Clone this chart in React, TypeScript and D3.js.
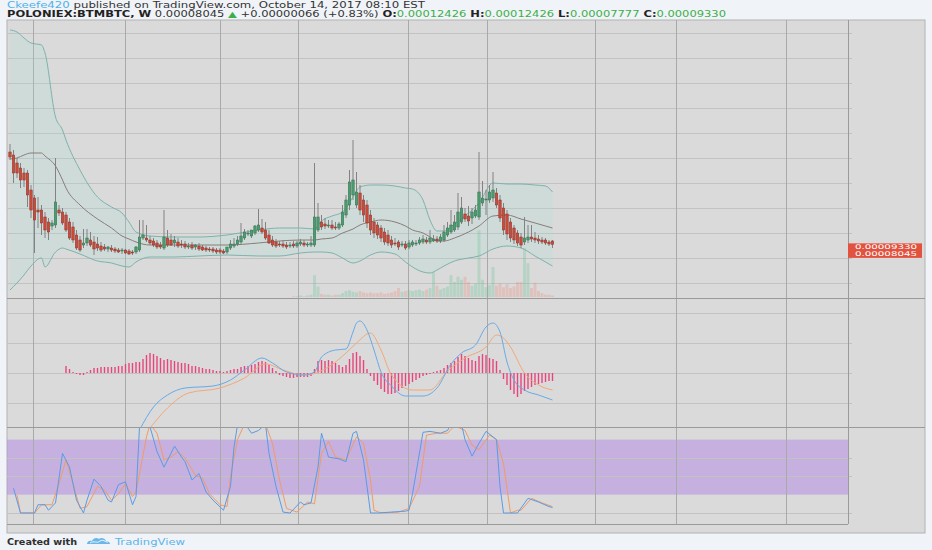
import React, { useEffect, useRef } from 'react';
import * as d3 from 'd3';

// POLONIEX:BTMBTC weekly candles, prices in satoshi (1e-8 BTC)
const opens = [
  11740, 11620, 11300, 11100, 10900, 10900, 10220, 9900, 9420, 9420,
  9140, 8940, 8780, 8820, 9420, 9340, 9220, 8940, 8740, 8420,
  8220, 8020, 8100, 8220, 8140, 8060, 7980, 7940, 7860, 7900,
  7860, 7820, 7780, 7820, 7780, 7740, 7740, 7820, 8300, 8300,
  8220, 8180, 8100, 8020, 7900, 8300, 8220, 8100, 8140, 8060,
  8060, 7940, 8020, 7940, 7980, 7940, 7900, 7860, 7860, 7820,
  7820, 7780, 7740, 7900, 7980, 8060, 8140, 8300, 8460, 8380,
  8500, 8620, 8700, 8620, 8420, 8220, 8140, 8060, 8060, 8020,
  7980, 8060, 7980, 8060, 8100, 8020, 8020, 8020, 8620, 8940,
  8860, 8780, 8820, 8740, 8700, 8820, 9220, 9620, 10020, 9620,
  10100, 9820, 9620, 9220, 8940, 8820, 8700, 8540, 8420, 8220,
  8100, 8140, 8020, 8060, 7940, 8020, 8060, 8100, 8140, 8220,
  8140, 8180, 8260, 8180, 8220, 8420, 8540, 8620, 8740, 8940,
  9260, 9180, 9100, 9180, 9140, 9700, 9820, 9820, 9900, 10100,
  9820, 9500, 9260, 8940, 8700, 8500, 8340, 8140, 8220, 8340,
  8300, 8260, 8220, 8220, 8140, 8180,
];
const highs = [
  12060, 11820, 11500, 11300, 11100, 11020, 10420, 10020, 9940, 9620,
  9340, 9100, 9020, 11500, 9620, 9500, 9340, 9100, 8940, 8620,
  8380, 8660, 8660, 8540, 8380, 8340, 8140, 8060, 7980, 8020,
  7940, 7900, 7900, 7860, 7860, 7820, 7980, 9020, 9020, 8820,
  8380, 8300, 8220, 8140, 9420, 8620, 8460, 8380, 8300, 8220,
  8180, 8100, 8140, 8060, 8100, 8020, 7980, 7940, 7940, 7900,
  7900, 7860, 7940, 8220, 8300, 8380, 8900, 8660, 8620, 8620,
  8820, 9460, 9060, 8940, 8620, 8380, 8260, 8180, 8220, 8140,
  8140, 8180, 8180, 8260, 8220, 8140, 8380, 11300, 9700, 9220,
  9100, 9020, 9020, 8940, 8940, 9620, 10020, 11020, 12220, 10940,
  10420, 10020, 9820, 9420, 9100, 8940, 8820, 8700, 8620, 8380,
  8300, 8220, 8180, 8180, 8220, 8220, 8220, 8340, 8420, 8340,
  8620, 8420, 8380, 8460, 8820, 8940, 9420, 9220, 10100, 9940,
  9500, 9580, 9500, 9620, 11740, 10580, 10220, 10420, 10940, 10300,
  10020, 9700, 9420, 9100, 8820, 8620, 8500, 9140, 8820, 8820,
  8540, 8420, 8340, 8300, 8220, 8220,
];
const lows = [
  11420, 10500, 10700, 10300, 10340, 9540, 9100, 7700, 8700, 8420,
  8300, 8220, 8620, 8700, 9180, 8820, 8540, 8220, 8100, 7820,
  7740, 7900, 7980, 7940, 7620, 7780, 7740, 7780, 7740, 7740,
  7700, 7700, 7660, 7660, 7620, 7620, 7660, 7740, 8220, 8140,
  8020, 7940, 7860, 7860, 7820, 7940, 7980, 7940, 7900, 7900,
  7860, 7860, 7820, 7820, 7780, 7780, 7740, 7740, 7700, 7660,
  7660, 7660, 7660, 7820, 7900, 7980, 8060, 8220, 8380, 8300,
  8420, 8540, 8460, 8220, 8060, 7940, 7900, 7940, 7900, 7860,
  7900, 7900, 7900, 7980, 7940, 7940, 7940, 7940, 8540, 8620,
  8660, 8700, 8620, 8620, 8620, 8740, 9100, 9420, 9820, 9500,
  9220, 8940, 8700, 8420, 8300, 8260, 8140, 8020, 7980, 7900,
  7980, 7820, 7940, 7820, 7860, 7940, 7980, 8020, 8060, 8060,
  8060, 8140, 8100, 8100, 8140, 8340, 8460, 8540, 8620, 8860,
  8940, 8780, 8860, 9100, 9020, 9580, 9220, 9700, 9740, 9500,
  8940, 8420, 8220, 8140, 8060, 7980, 7900, 8020, 8100, 8140,
  8100, 8060, 8060, 8020, 7980, 7900,
];
const closes = [
  11540, 10900, 10900, 10620, 10620, 10020, 9420, 9020, 9340, 8900,
  8620, 8540, 8900, 9740, 9300, 8900, 8620, 8300, 8220, 7900,
  7820, 8100, 8300, 8020, 7860, 7900, 7820, 7860, 7940, 7820,
  7780, 7740, 7820, 7700, 7660, 7700, 7940, 8340, 8420, 8220,
  8100, 8020, 7940, 7940, 8340, 8020, 8020, 8220, 7980, 8020,
  7940, 7980, 7900, 8020, 7860, 7820, 7820, 7820, 7780, 7740,
  7740, 7700, 7940, 8060, 8060, 8220, 8380, 8540, 8500, 8620,
  8780, 8820, 8540, 8300, 8100, 8020, 7980, 8020, 7980, 7940,
  8020, 7980, 8100, 8140, 8020, 8060, 8100, 9140, 9140, 8740,
  8780, 8820, 8700, 8700, 8860, 9340, 9820, 10540, 10620, 10140,
  9420, 9220, 8900, 8620, 8500, 8420, 8300, 8140, 8100, 8020,
  8060, 7940, 8060, 7900, 8100, 8140, 8100, 8220, 8260, 8140,
  8300, 8260, 8180, 8340, 8540, 8700, 8820, 8940, 9340, 9500,
  9060, 8980, 9340, 9420, 10140, 9900, 9860, 10140, 10220, 9620,
  9100, 8620, 8460, 8300, 8220, 8100, 8020, 8300, 8340, 8260,
  8220, 8180, 8140, 8100, 8060, 8045,
];
const volumes = [
  0, 0, 0, 0, 0, 0, 0, 0, 0, 0,
  0, 0, 0, 0, 0, 0, 0, 0, 0, 0,
  0, 0, 0, 0, 0, 0, 0, 0, 0, 0,
  0, 0, 0, 0, 0, 0, 0, 0, 0, 0,
  0, 0, 0, 0, 0, 0, 0, 0, 0, 0,
  0, 0, 0, 0, 0, 0, 0, 0, 0, 0,
  0, 0, 0, 0, 0, 0, 0, 0, 0, 0,
  0, 0, 0, 0, 0, 0, 0, 0, 0, 0,
  0, 1, 1, 2, 1, 2, 3, 29, 14, 4,
  3, 3, 2, 3, 3, 5, 8, 9, 7, 6,
  8, 6, 5, 6, 5, 5, 6, 4, 5, 6,
  8, 12, 7, 8, 9, 8, 9, 10, 8, 10,
  12, 33, 15, 10, 12, 14, 29, 20, 27, 23,
  27, 20, 15, 18, 89, 23, 13, 16, 40, 15,
  18, 13, 17, 12, 14, 20, 20, 65, 45, 12,
  19, 8, 5, 3, 3, 2,
];

// Bollinger bands (20, 2), read at these candle indices
const bbIndex = [0, 2, 4, 6, 9, 10, 13, 15, 16, 20, 25, 29, 32, 34, 36, 40, 47, 54, 62, 71, 77, 83, 87, 89, 92, 95, 98, 100, 103, 106, 110, 113, 115, 118, 120, 122, 124, 127, 131, 134, 138, 142, 146, 150, 153, 155];
const bbUpper = [16620, 16540, 16300, 16100, 16020, 15700, 13140, 12620, 12220, 11020, 9940, 9540, 9300, 8940, 8540, 8380, 8340, 8340, 8420, 8620, 8700, 8700, 8660, 8980, 9180, 9340, 9940, 10340, 10420, 10420, 10380, 10300, 10260, 9820, 9020, 8580, 8580, 8860, 9300, 9700, 10500, 10460, 10460, 10420, 10380, 10140];
const bbBasis = [11460, 11500, 11620, 11700, 11700, 11580, 11180, 10620, 10300, 9620, 9060, 8700, 8380, 8260, 8140, 8020, 8020, 8020, 8020, 8100, 8180, 8220, 8220, 8260, 8300, 8500, 8660, 8820, 8940, 9020, 8940, 8780, 8620, 8500, 8340, 8180, 8180, 8300, 8540, 8780, 9180, 9220, 9060, 8900, 8780, 8700];
const bbLower = [6220, 6500, 6820, 7180, 7500, 7140, 7740, 7900, 7860, 7660, 7380, 7300, 7180, 7140, 7340, 7540, 7540, 7580, 7620, 7580, 7580, 7700, 7740, 7740, 7700, 7500, 7300, 7380, 7620, 7740, 7660, 7340, 7140, 6940, 6900, 7020, 7180, 7380, 7500, 7580, 7860, 7980, 7900, 7580, 7340, 7180];

// MACD (12, 26, 9); histogram starts at candle 16
const histStart = 16;
const macdHist = [
  140, 80, 20, -20, -40, -40, 20, 60, 100, 100,
  120, 120, 120, 120, 120, 140, 140, 180, 200, 200,
  220, 220, 280, 360, 400, 380, 340, 300, 260, 280,
  260, 240, 220, 200, 200, 180, 140, 140, 120, 100,
  80, 80, 60, 40, 40, 20, 40, 60, 80, 80,
  120, 140, 140, 160, 180, 220, 240, 220, 160, 100,
  40, -40, -60, -80, -100, -100, -80, -80, -80, -80,
  -60, 80, 240, 260, 240, 260, 240, 200, 160, 120,
  160, 280, 400, 420, 340, 260, 80, -60, -160, -240,
  -320, -380, -420, -420, -400, -360, -300, -260, -220, -180,
  -140, -100, -60, -40, -20, 20, 40, 60, 100, 160,
  200, 240, 320, 380, 340, 300, 260, 240, 340, 380,
  360, 300, 280, 240, 60, -120, -240, -340, -420, -480,
  -420, -360, -320, -280, -240, -220, -200, -180, -160, -160,
];
const macdIndex = [37, 41, 45, 50, 58, 63, 67, 72, 75, 79, 84, 87, 89, 93, 96, 98, 99, 100, 102, 104, 106, 109, 113, 118, 122, 126, 129, 133, 136, 138, 140, 142, 144, 147, 151, 155];
const macdLine = [-1140, -680, -440, -300, -260, -140, 60, 300, 200, 20, -40, 20, 320, 460, 480, 820, 1000, 1040, 860, 460, 20, -260, -460, -460, -300, 180, 400, 560, 920, 1000, 820, 220, -140, -340, -440, -540];
const signalIndex = [40, 45, 51, 60, 67, 73, 78, 84, 91, 96, 99, 103, 106, 109, 115, 120, 125, 130, 136, 139, 141, 143, 147, 151, 155];
const signalLine = [-1100, -700, -400, -300, -100, 180, 60, -40, 120, 400, 600, 800, 460, -40, -340, -340, 40, 300, 520, 760, 700, 520, 0, -240, -340];

// Stochastic (14, 3, 3)
const stochKIndex = [1, 3, 7, 8, 10, 11, 13, 15, 17, 19, 21, 22, 24, 26, 28, 29, 31, 33, 35, 36, 37, 39, 40, 42, 44, 46, 47, 49, 50, 52, 54, 56, 58, 61, 63, 64, 65, 67, 69, 71, 73, 74, 76, 78, 80, 83, 84, 86, 88, 89, 91, 94, 96, 98, 99, 101, 103, 105, 109, 113, 114, 115, 118, 120, 123, 125, 126, 129, 130, 132, 134, 136, 139, 140, 141, 145, 148, 151, 154, 155];
const stochK = [27, 0, 0, 9, 9, 3, 11, 65, 50, 14, 0, 14, 37, 29, 14, 12, 31, 34, 9, 18, 94, 100, 94, 67, 50, 65, 73, 61, 56, 36, 43, 23, 14, 3, 29, 72, 96, 98, 87, 90, 97, 65, 29, 1, 0, 12, 9, 11, 50, 87, 61, 59, 56, 87, 89, 58, 0, 0, 1, 2, 3, 21, 88, 89, 87, 90, 97, 97, 80, 62, 76, 89, 80, 29, 0, 0, 16, 12, 7, 6];
const stochDIndex = [2, 3, 7, 9, 12, 14, 16, 18, 20, 22, 25, 27, 29, 31, 33, 35, 36, 39, 40, 42, 44, 46, 48, 50, 53, 55, 57, 60, 62, 63, 65, 67, 70, 73, 75, 77, 79, 82, 85, 87, 89, 91, 93, 96, 99, 101, 103, 104, 106, 111, 114, 117, 119, 122, 125, 127, 130, 132, 134, 137, 139, 141, 143, 145, 146, 149, 152, 155];
const stochD = [20, 0, 0, 9, 9, 32, 58, 32, 5, 7, 29, 25, 14, 21, 32, 18, 23, 83, 97, 87, 58, 61, 67, 60, 41, 38, 21, 9, 7, 40, 80, 97, 95, 97, 76, 36, 5, 1, 12, 10, 65, 78, 61, 58, 83, 76, 36, 3, 0, 1, 5, 29, 85, 87, 87, 95, 90, 74, 69, 85, 80, 54, 0, 3, 3, 16, 11, 7];

// grid / tick values
const priceTicks = d3.range(6500, 17000, 1000);
const macdTicks = [-600, 0, 600, 1200];
const stochTicks = [0, 40, 60];
const stochBand = [20, 80];
const timeTicks = [6.6, 32.9, 60, 82.3, 113.7, 136.3, 167.1, 190.3, 221.7];

const lastPrice = 8045;
const priceLabels = ['0.00009330', '0.00008045'];
const ohlcLabels = [['O:', '0.00012426'], ['H:', '0.00012426'], ['L:', '0.00007777'], ['C:', '0.00009330']];

const FONT = '"DejaVu Sans", Verdana, sans-serif';

export default function App() {
  const svgRef = useRef<SVGSVGElement | null>(null);

  useEffect(() => {
    if (!svgRef.current) return;
    const svg = d3.select(svgRef.current);
    svg.selectAll('*').remove();

    const frameLeft = 7, frameRight = 925, frameTop = 20, frameBottom = 533;
    const plotRight = 848;
    const mainTop = 20, mainBottom = 298, macdBottom = 427, stochBottom = 524;

    const x = d3.scaleLinear().domain([0, 155]).range([10, 552.5]);
    const yPrice = d3.scaleLinear().domain([5900, 17020]).range([mainBottom, mainTop]);
    const yVol = d3.scaleLinear().domain([0, 100]).range([mainBottom - 1, 222]);
    const yMacd = d3.scaleLinear().domain([-1080, 1500]).range([macdBottom, mainBottom]);
    const yStoch = d3.scaleLinear().domain([0, 100]).range([513, 421.3]);

    // page + frame
    svg.append('rect').attr('width', 932).attr('height', 550).attr('fill', '#f0f3f7');
    svg.append('rect')
      .attr('x', frameLeft).attr('y', frameTop)
      .attr('width', frameRight - frameLeft).attr('height', frameBottom - frameTop)
      .attr('fill', '#dadada').attr('stroke', '#b2b2b2');

    const defs = svg.append('defs');
    const addClip = (id: string, top: number, bottom: number) => {
      defs.append('clipPath').attr('id', id).append('rect')
        .attr('x', frameLeft).attr('y', top)
        .attr('width', plotRight - frameLeft).attr('height', bottom - top);
    };
    addClip('clip-main', mainTop, mainBottom);
    addClip('clip-macd', mainBottom, macdBottom);
    addClip('clip-stoch', macdBottom, stochBottom);

    // stochastic band (under the grid)
    svg.append('rect')
      .attr('x', frameLeft).attr('width', plotRight - frameLeft)
      .attr('y', yStoch(stochBand[1])).attr('height', yStoch(stochBand[0]) - yStoch(stochBand[1]))
      .attr('fill', '#b58ee6').attr('opacity', 0.55);

    // horizontal grid + price scale ticks
    const grid = svg.append('g').attr('stroke', '#c2c2c2').attr('stroke-width', 1);
    const hLine = (y: number) => {
      grid.append('line').attr('x1', frameLeft).attr('x2', plotRight + 4)
        .attr('y1', Math.round(y) + 0.5).attr('y2', Math.round(y) + 0.5);
    };
    priceTicks.forEach(v => hLine(yPrice(v)));
    macdTicks.forEach(v => hLine(yMacd(v)));
    stochTicks.forEach(v => hLine(yStoch(v)));

    // vertical time grid
    const vgrid = svg.append('g').attr('stroke', '#a9a9a9').attr('stroke-width', 1);
    timeTicks.forEach(t => {
      const xx = Math.round(x(t)) + 0.5;
      vgrid.append('line').attr('x1', xx).attr('x2', xx).attr('y1', mainTop).attr('y2', stochBottom);
    });

    // ---- main pane ----
    const main = svg.append('g').attr('clip-path', 'url(#clip-main)');

    const bbArea = d3.area<number>()
      .x((_, k) => x(bbIndex[k]))
      .y0((_, k) => yPrice(bbLower[k]))
      .y1(v => yPrice(v))
      .curve(d3.curveMonotoneX);
    main.append('path').datum(bbUpper).attr('d', bbArea)
      .attr('fill', '#a6e2d6').attr('opacity', 0.2);

    // volume
    main.append('g').selectAll('rect').data(volumes).join('rect')
      .attr('x', (_, i) => x(i) - 1.5)
      .attr('width', 3)
      .attr('y', v => yVol(v))
      .attr('height', v => yVol(0) - yVol(v))
      .attr('fill', (_, i) => (closes[i] >= opens[i] ? '#68c294' : '#ec8a7a'))
      .attr('opacity', 0.3);

    const bandLine = (vals: number[]) =>
      d3.line<number>().x((_, k) => x(bbIndex[k])).y(v => yPrice(v)).curve(d3.curveMonotoneX)(vals);
    main.append('path').attr('d', bandLine(bbUpper)).attr('fill', 'none').attr('stroke', '#7db3ab').attr('stroke-width', 1);
    main.append('path').attr('d', bandLine(bbLower)).attr('fill', 'none').attr('stroke', '#7db3ab').attr('stroke-width', 1);
    main.append('path').attr('d', bandLine(bbBasis)).attr('fill', 'none').attr('stroke', '#8a7c79').attr('stroke-width', 1);

    // candles
    const candles = main.append('g');
    closes.forEach((c, i) => {
      const o = opens[i];
      const up = c >= o;
      const cx = x(i);
      candles.append('line')
        .attr('x1', cx).attr('x2', cx)
        .attr('y1', yPrice(highs[i])).attr('y2', yPrice(lows[i]))
        .attr('stroke', '#828282').attr('stroke-width', 1);
      const top = yPrice(Math.max(o, c));
      const h = Math.max(1, yPrice(Math.min(o, c)) - top);
      candles.append('rect')
        .attr('x', cx - 1.2).attr('width', 2.4)
        .attr('y', top).attr('height', h)
        .attr('fill', up ? '#4b9c70' : '#c94b3b')
        .attr('stroke', up ? '#2f6d4c' : '#8c2f25').attr('stroke-width', 0.5);
    });

    // ---- MACD pane ----
    const macd = svg.append('g').attr('clip-path', 'url(#clip-macd)');
    macd.append('g').selectAll('rect').data(macdHist).join('rect')
      .attr('x', (_, k) => x(histStart + k) - 0.7)
      .attr('width', 1.4)
      .attr('y', v => Math.min(yMacd(v), yMacd(0)))
      .attr('height', v => Math.abs(yMacd(v) - yMacd(0)))
      .attr('fill', '#e8457f');
    const macdPath = d3.line<number>().x((_, k) => x(macdIndex[k])).y(v => yMacd(v)).curve(d3.curveMonotoneX);
    const signalPath = d3.line<number>().x((_, k) => x(signalIndex[k])).y(v => yMacd(v)).curve(d3.curveMonotoneX);
    macd.append('path').attr('d', signalPath(signalLine)).attr('fill', 'none').attr('stroke', '#f2a877').attr('stroke-width', 1);
    macd.append('path').attr('d', macdPath(macdLine)).attr('fill', 'none').attr('stroke', '#68aae6').attr('stroke-width', 1);

    // ---- Stochastic pane ----
    const stoch = svg.append('g').attr('clip-path', 'url(#clip-stoch)');
    const kPath = d3.line<number>().x((_, k) => x(stochKIndex[k])).y(v => yStoch(v));
    const dPath = d3.line<number>().x((_, k) => x(stochDIndex[k])).y(v => yStoch(v));
    stoch.append('path').attr('d', dPath(stochD)).attr('fill', 'none').attr('stroke', '#f29a68').attr('stroke-width', 1);
    stoch.append('path').attr('d', kPath(stochK)).attr('fill', 'none').attr('stroke', '#5a9be6').attr('stroke-width', 1);

    // pane separators and price scale border
    const sep = svg.append('g').attr('stroke', '#9a9a9a').attr('stroke-width', 1);
    sep.append('line').attr('x1', frameLeft).attr('x2', frameRight).attr('y1', mainBottom + 0.5).attr('y2', mainBottom + 0.5);
    sep.append('line').attr('x1', frameLeft).attr('x2', frameRight).attr('y1', macdBottom + 0.5).attr('y2', macdBottom + 0.5);
    sep.append('line').attr('x1', frameLeft).attr('x2', plotRight).attr('y1', stochBottom + 0.5).attr('y2', stochBottom + 0.5);
    sep.append('line').attr('x1', plotRight + 0.5).attr('x2', plotRight + 0.5).attr('y1', frameTop).attr('y2', stochBottom);

    // last price labels
    const labelTop = yPrice(lastPrice) - 1;
    svg.append('rect').attr('x', plotRight).attr('y', labelTop).attr('width', 74).attr('height', 14.5).attr('fill', '#e1523f');
    priceLabels.forEach((t, k) => {
      svg.append('text')
        .attr('x', plotRight + 7).attr('y', labelTop + 6 + k * 6.6)
        .attr('font-family', FONT).attr('font-size', 6.5).attr('fill', '#ffffff')
        .attr('textLength', 62).attr('lengthAdjust', 'spacingAndGlyphs')
        .text(t);
    });

    // header
    const h1 = svg.append('text').attr('x', 7).attr('y', 8.4)
      .attr('font-family', FONT).attr('font-size', 8.4)
      .attr('textLength', 418).attr('lengthAdjust', 'spacingAndGlyphs');
    h1.append('tspan').attr('fill', '#4cb2ea').text('Ckeefe420');
    h1.append('tspan').attr('fill', '#333333').text(' published on TradingView.com, October 14, 2017 08:10 EST');

    const h2 = svg.append('text').attr('x', 7).attr('y', 16.6)
      .attr('font-family', FONT).attr('font-size', 8.4)
      .attr('textLength', 719).attr('lengthAdjust', 'spacingAndGlyphs');
    h2.append('tspan').attr('fill', '#222222').attr('font-weight', 'bold').text('POLONIEX:BTMBTC, W');
    h2.append('tspan').attr('fill', '#333333').text(' 0.00008045 ');
    h2.append('tspan').attr('fill', '#3caf4a').text('▲');
    h2.append('tspan').attr('fill', '#333333').text(' +0.00000066 (+0.83%)');
    ohlcLabels.forEach(([k, v]) => {
      h2.append('tspan').attr('fill', '#222222').attr('font-weight', 'bold').text(' ' + k);
      h2.append('tspan').attr('fill', '#3caf4a').text(v);
    });

    // footer
    svg.append('text').attr('x', 7).attr('y', 545)
      .attr('font-family', FONT).attr('font-size', 8.4).attr('font-weight', 'bold').attr('fill', '#2f2f2f')
      .attr('textLength', 70).attr('lengthAdjust', 'spacingAndGlyphs')
      .text('Created with');
    const logo = svg.append('g').attr('transform', 'translate(87,536)');
    logo.append('path')
      .attr('d', 'M0,8 C0,5 3,4 5,5 C6,2 10,1 12,3 C14,1 18,2 19,5 C22,5 23,7 23,8 Z')
      .attr('fill', '#6ab8e8');
    logo.append('path')
      .attr('d', 'M3,7 C7,4 10,8 13,5 C16,3 18,6 21,6')
      .attr('fill', 'none').attr('stroke', '#f0f3f7').attr('stroke-width', 1);
    svg.append('text').attr('x', 115).attr('y', 545)
      .attr('font-family', FONT).attr('font-size', 8.4).attr('fill', '#5cb4e8')
      .attr('textLength', 70).attr('lengthAdjust', 'spacingAndGlyphs')
      .text('TradingView');
  }, []);

  return (
    <svg
      ref={svgRef}
      width={932}
      height={550}
      style={{ position: 'absolute', left: 0, top: 0, display: 'block' }}
    />
  );
}
